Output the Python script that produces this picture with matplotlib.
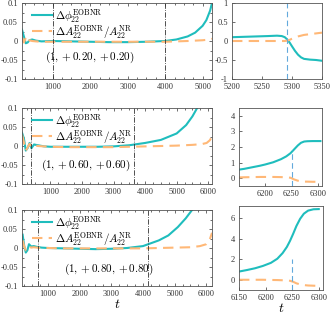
import numpy as np
import matplotlib
matplotlib.use("Agg")
import matplotlib.pyplot as plt

plt.rcParams['font.family'] = ['Liberation Serif', 'DejaVu Serif']
plt.rcParams['mathtext.fontset'] = 'cm'
plt.rcParams['axes.unicode_minus'] = False

CYAN = '#1fbdbd'
ORANGE = '#ffb877'
VBLUE = '#62a9dc'

# ---- data ----
labels = ["$(1,+0.20,+0.20)$", "$(1,+0.60,+0.60)$", "$(1,+0.80,+0.80)$"]

# left panels: full inspiral
t1 = [180, 230, 280, 330, 380, 450, 550, 700, 1000, 1500, 2000, 2500, 3000, 3500, 4000,
      4300, 4600, 4800, 5000, 5100, 5200, 5250]
phi1 = [0.03, 0.012, -0.006, -0.004, 0.002, 0.004, 0.001, -0.001, 0.0, -0.001, -0.002,
        -0.003, -0.003, -0.002, 0.0, 0.004, 0.012, 0.022, 0.04, 0.055, 0.08, 0.1]
amp1 = [0.01, -0.004, 0.008, -0.003, 0.002, 0.0, -0.001, -0.002, -0.002, -0.002, -0.002,
        -0.002, -0.002, -0.002, -0.002, -0.001, 0.0, 0.001, 0.002, 0.003, 0.004, 0.006]

t2 = [100, 160, 220, 280, 340, 400, 480, 600, 800, 1000, 1500, 2000, 2500, 3000, 3500,
      4000, 4500, 5000, 5300, 5500, 5650]
phi2 = [0.035, 0.02, -0.012, -0.005, 0.008, -0.006, 0.004, 0.002, -0.001, -0.002, -0.002,
        -0.002, -0.002, -0.001, 0.002, 0.008, 0.016, 0.033, 0.055, 0.078, 0.1]
t2a = [100, 160, 220, 280, 340, 400, 480, 600, 800, 1000, 1500, 2000, 2500, 3000, 3500,
       4000, 4500, 5000, 5500, 5800, 5950, 6050, 6120]
amp2 = [0.03, 0.01, -0.012, -0.004, 0.006, -0.002, 0.003, 0.0, -0.001, -0.002, -0.003,
        -0.003, -0.003, -0.003, -0.002, -0.001, 0.0, 0.001, 0.003, 0.005, 0.008, 0.015, 0.025]

t3 = [200, 250, 300, 350, 400, 470, 550, 650, 800, 1000, 1500, 2000, 2500, 3000, 3500,
      4000, 4500, 4800, 5100, 5350, 5550]
phi3 = [0.035, 0.005, -0.012, -0.006, 0.01, 0.004, 0.005, 0.003, 0.001, 0.0, -0.001,
        -0.002, -0.003, -0.002, 0.0, 0.005, 0.02, 0.033, 0.055, 0.078, 0.1]
t3a = [200, 250, 300, 350, 400, 470, 550, 650, 800, 1000, 1500, 2000, 2500, 3000, 3500,
       4000, 4500, 5000, 5500, 5800, 6000, 6100, 6180]
amp3 = [0.02, 0.004, -0.006, 0.002, 0.004, 0.001, 0.002, 0.001, 0.0, 0.0, -0.001, -0.001,
        -0.001, -0.001, -0.001, -0.001, 0.0, 0.001, 0.002, 0.005, 0.01, 0.02, 0.04]

xlims_left = [(180, 5250), (100, 6120), (180, 6180)]
vlines_left = [(1000, 4000), (400, 3650), (700, 4150)]

# right panels: merger zoom
r1t = [5200, 5220, 5240, 5260, 5275, 5283, 5288, 5292, 5296, 5300, 5305, 5310, 5315,
       5320, 5330, 5340, 5350]
r1phi = [0.1, 0.11, 0.12, 0.13, 0.14, 0.13, 0.1, 0.04, -0.04, -0.14, -0.26, -0.36,
         -0.43, -0.47, -0.49, -0.5, -0.52]
r1amp = [0.0, 0.0, 0.0, 0.0, 0.0, 0.0, 0.0, 0.01, 0.03, 0.06, 0.09, 0.12, 0.14, 0.16,
         0.18, 0.2, 0.22]

r2t = [6150, 6160, 6175, 6190, 6200, 6215, 6230, 6240, 6248, 6255, 6262, 6268, 6274,
       6280, 6290, 6300, 6305]
r2phi = [0.55, 0.6, 0.7, 0.8, 0.88, 1.02, 1.22, 1.4, 1.6, 1.85, 2.1, 2.27, 2.35, 2.37,
         2.38, 2.38, 2.38]
r2amp = [0.05, 0.06, 0.07, 0.08, 0.08, 0.08, 0.07, 0.06, 0.03, -0.08, -0.16, -0.2,
         -0.22, -0.22, -0.23, -0.23, -0.23]

r3t = [6150, 6165, 6180, 6195, 6210, 6222, 6232, 6240, 6246, 6252, 6258, 6265, 6272,
       6280, 6290, 6300]
r3phi = [0.8, 0.95, 1.12, 1.35, 1.65, 2.05, 2.6, 3.2, 3.8, 4.5, 5.25, 5.95, 6.45,
         6.75, 6.88, 6.9]
r3amp = [0.0, 0.0, 0.0, 0.0, -0.02, -0.03, -0.05, -0.07, -0.1, -0.2, -0.35, -0.45,
         -0.52, -0.56, -0.58, -0.6]

xlims_right = [(5200, 5350), (6150, 6308), (6150, 6308)]
ylims_right = [(-1, 1), (-0.5, 4.5), (-1, 7.2)]
yticks_right = [[-1, -0.5, 0, 0.5, 1], [0, 1, 2, 3, 4], [0, 2, 4, 6]]
xticks_right = [[5200, 5250, 5300, 5350], [6200, 6250, 6300], [6150, 6200, 6250, 6300]]
vline_right = [5292, 6250, 6250]
vline_top = [1.0, 1.8, 2.0]

left_data = [(t1, phi1, t1, amp1), (t2, phi2, t2a, amp2), (t3, phi3, t3a, amp3)]
right_data = [(r1t, r1phi, r1amp), (r2t, r2phi, r2amp), (r3t, r3phi, r3amp)]

fig = plt.figure(figsize=(3.32, 3.16), dpi=100)
W, H = 332.0, 316.0

left_boxes = [(22, 3, 190, 76), (22, 108, 190, 76), (22, 210, 190, 76)]
right_boxes = [(232, 3, 90, 76), (239, 108, 83, 78), (239, 206, 84, 84)]
label_x = [0.12, 0.10, 0.22]
label_y = [0.29, 0.24, 0.22]


def style(ax):
    ax.tick_params(direction='in', which='both', top=True, right=True, labelsize=6,
                   length=2.5, width=0.5, pad=3, colors='#333333')
    ax.tick_params(which='minor', length=1.3)
    for s in ax.spines.values():
        s.set_linewidth(0.6)
        s.set_color('#555555')


for i in range(3):
    x, y, w, h = left_boxes[i]
    ax = fig.add_axes([x / W, 1 - (y + h) / H, w / W, h / H])
    tp, ph, ta, am = left_data[i]
    ax.plot(tp, ph, color=CYAN, lw=1.5, label=r'$\Delta\phi_{22}^{\rm EOBNR}$')
    ax.plot(ta, am, color=ORANGE, lw=1.5, ls=(0, (5, 3)),
            label=r'$\Delta A_{22}^{\rm EOBNR}/A_{22}^{\rm NR}$')
    for v in vlines_left[i]:
        ax.axvline(v, color='#333333', lw=0.6, ls='-.')
    ax.set_ylim(-0.1, 0.1)
    ax.set_yticks([-0.1, -0.05, 0, 0.05, 0.1])
    ax.set_yticklabels(['-0.1', '-0.05', '0', '0.05', '0.1'])
    ax.set_xticks([1000, 2000, 3000, 4000, 5000] + ([6000] if i > 0 else []))
    ax.set_xticks(np.arange(0, 6400, 250), minor=True)
    ax.set_xlim(*xlims_left[i])
    ax.set_yticks(np.arange(-0.1, 0.101, 0.025), minor=True)
    style(ax)
    ax.legend(loc='upper left', frameon=False, fontsize=8, handlelength=1.8,
              borderaxespad=0, borderpad=0.3, labelspacing=-0.15, handletextpad=0.3,
              bbox_to_anchor=(0.035, 0.99))
    ax.text(label_x[i], label_y[i], labels[i], transform=ax.transAxes, fontsize=8,
            va='center')
    if i == 2:
        ax.set_xlabel('$t$', fontsize=10, labelpad=0)

    x, y, w, h = right_boxes[i]
    ax = fig.add_axes([x / W, 1 - (y + h) / H, w / W, h / H])
    rt, rp, ra = right_data[i]
    ax.plot(rt, rp, color=CYAN, lw=1.5)
    ax.plot(rt, ra, color=ORANGE, lw=1.5, ls=(0, (5, 3)))
    ax.vlines(vline_right[i], ylims_right[i][0], vline_top[i], color=VBLUE, lw=0.8,
              linestyles=(0, (5, 3)))
    ax.set_xlim(*xlims_right[i])
    ax.set_ylim(*ylims_right[i])
    ax.set_yticks(yticks_right[i])
    ax.set_xticks(xticks_right[i])
    if i == 0:
        ax.set_yticklabels(['-1', '-0.5', '0', '0.5', '1'])
    style(ax)
    ax.tick_params(which='both', top=False, right=False)
    if i == 2:
        ax.set_xlabel('$t$', fontsize=10, labelpad=0)

fig.savefig('out.png', dpi=100)
